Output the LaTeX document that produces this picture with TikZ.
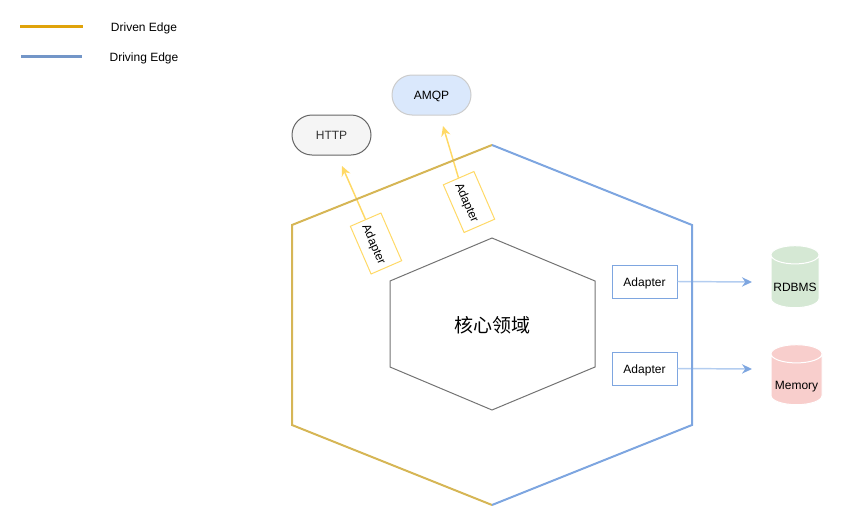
\documentclass[tikz,border=0pt]{standalone}
\usepackage{fontspec}
\setmainfont{Liberation Sans}
\newfontfamily\cjkfont{Noto Sans CJK SC}
\usetikzlibrary{shapes.geometric,arrows.meta,positioning}
\definecolor{drivenline}{HTML}{E0A30A}
\definecolor{drivingline}{HTML}{7396C8}
\definecolor{hexgold}{HTML}{D6B656}
\definecolor{hexblue}{HTML}{7EA6E0}
\definecolor{adaptgold}{HTML}{FFD966}
\definecolor{adaptblue}{HTML}{B3CDF0}
\definecolor{amqpfill}{HTML}{DAE8FC}
\definecolor{rdbmsfill}{HTML}{D5E8D4}
\definecolor{memoryfill}{HTML}{F8CECC}
\tikzset{
    pill/.style = {rectangle, rounded corners=15pt, line width=0.75pt, minimum width=59.25pt, minimum height=30pt, inner sep=0pt, text height=6.5pt, text depth=0pt, font=\fontsize{9}{11}\selectfont},
    adapter/.style = {rectangle, line width=0.75pt, fill=none, minimum width=48.75pt, minimum height=24.75pt, inner sep=0pt, text height=6.8pt, text depth=0pt, font=\fontsize{9}{11}\selectfont},
    slantadapter/.style = {adapter, draw=adaptgold, rotate=-66.5, minimum width=39pt, minimum height=25pt, text height=9pt},
    store/.style = {cylinder, shape border rotate=90, draw=white, line width=0.75pt, cylinder uses custom fill, shape aspect=0.42, inner sep=0pt, text height=15pt, text depth=0pt, font=\fontsize{9}{11}\selectfont},
    legendtext/.style = {inner sep=0pt, font=\fontsize{9}{11}\selectfont}
}
\begin{document}
\begin{tikzpicture}[
        x=0.75pt, y=-0.75pt,
        drivenarr/.style = {-{Stealth[length=7.5pt,width=7pt,color=adaptgold]}, line width=1.1pt, draw=adaptgold},
        drivingarr/.style = {-{Stealth[length=7.5pt,width=7pt,color=hexblue]}, line width=1.1pt, draw=adaptblue},
        hexedge/.style = {line width=1.5pt, line join=miter}
    ]
        \useasboundingbox (0,0) rectangle (853,518);

        % Legend
        \coordinate (drivenstart) at (20,26);
        \coordinate (drivenend) at (83,26);
        \coordinate (drivingstart) at (21,56);
        \coordinate (drivingend) at (82,56);
        \draw[line width=2.25pt, draw=drivenline] (drivenstart) -- (drivenend);
        \draw[line width=2.25pt, draw=drivingline] (drivingstart) -- (drivingend);
        \node[legendtext] (drivenlabel) at (144,28) {Driven Edge};
        \node[legendtext] (drivinglabel) at (144,58) {Driving Edge};

        % Outside systems
        \node[pill, draw=black!60, fill=black!4, text=black!80] (http) at (331.5,135) {HTTP};
        \node[pill, draw=black!20, fill=amqpfill] (amqp) at (431.5,95) {AMQP};
        \node[store, minimum width=36pt, minimum height=46.5pt, cylinder body fill=rdbmsfill, cylinder end fill=rdbmsfill] (rdbms) at (795,281.5) {RDBMS};
        \node[store, minimum width=38.25pt, minimum height=45pt, cylinder body fill=memoryfill, cylinder end fill=memoryfill] (memory) at (796.5,379.5) {Memory};

        % Adapters
        \node[slantadapter] (httpadapter) at (376,243.5) {Adapter};
        \node[slantadapter] (amqpadapter) at (469,202) {Adapter};
        \node[adapter, draw=hexblue] (rdbmsadapter) at (644.5,281.5) {Adapter};
        \node[adapter, draw=hexblue] (memoryadapter) at (644.5,368.5) {Adapter};

        % Arrow ends stop short of the targets
        \coordinate (httptip) at (342,166);
        \coordinate (amqptip) at (443,126);
        \coordinate (rdbmstip) at (752,282);
        \coordinate (memorytip) at (752,369);
        \draw[drivenarr] (httpadapter.west) -- (httptip);
        \draw[drivenarr] (amqpadapter.west) -- (amqptip);
        \draw[drivingarr] (rdbmsadapter.east) -- (rdbmstip);
        \draw[drivingarr] (memoryadapter.east) -- (memorytip);

        % Outer hexagon
        \coordinate (top) at (492,145);
        \coordinate (upright) at (692,225);
        \coordinate (lowright) at (692,425);
        \coordinate (bottom) at (492,505);
        \coordinate (lowleft) at (292,425);
        \coordinate (upleft) at (292,225);
        \draw[hexedge, draw=hexgold] (top) -- (upleft) -- (lowleft) -- (bottom);
        \draw[hexedge, draw=hexblue] (top) -- (upright) -- (lowright) -- (bottom);

        % Core hexagon
        \coordinate (coretop) at (492,238);
        \coordinate (coreupright) at (595,281);
        \coordinate (corelowright) at (595,367);
        \coordinate (corebottom) at (492,410);
        \coordinate (corelowleft) at (390,367);
        \coordinate (coreupleft) at (390,281);
        \draw[line width=0.75pt, draw=black!55] (coretop) -- (coreupright) -- (corelowright) -- (corebottom) -- (corelowleft) -- (coreupleft) -- cycle;
        \node[inner sep=0pt, font=\cjkfont\fontsize{14.25}{17}\selectfont] (core) at (492.5,325) {核心领域};
\end{tikzpicture}
\end{document}
